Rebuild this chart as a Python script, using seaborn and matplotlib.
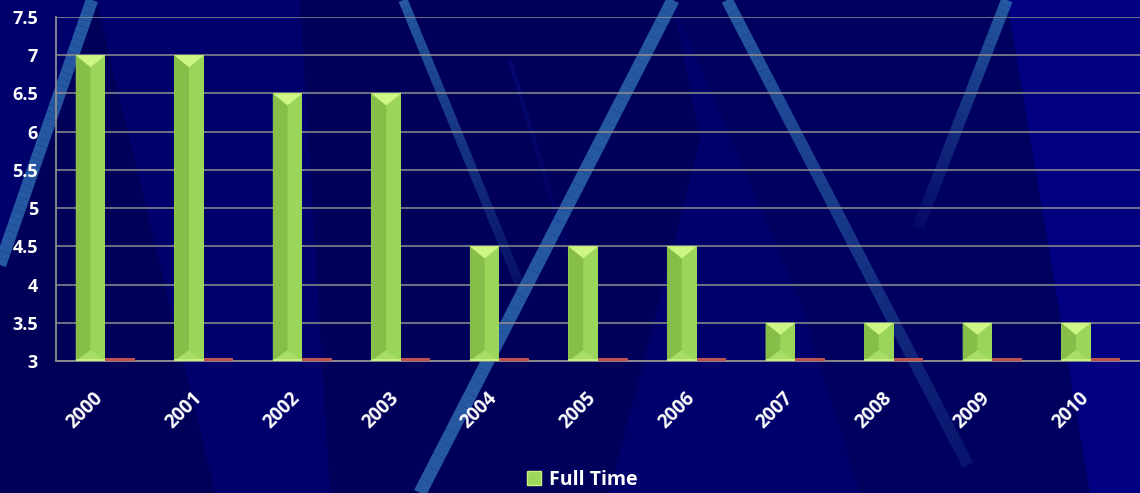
import numpy as np
import pandas as pd
import matplotlib
matplotlib.use("Agg")
import matplotlib.pyplot as plt
import matplotlib.transforms as mtransforms
import seaborn as sns
from matplotlib.patches import Polygon, Patch
from matplotlib.collections import LineCollection
from matplotlib.colors import to_rgba

# ---------------- data ----------------
years = ["2000", "2001", "2002", "2003", "2004", "2005",
         "2006", "2007", "2008", "2009", "2010"]
full_time = [7.0, 7.0, 6.5, 6.5, 4.5, 4.5, 4.5, 3.5, 3.5, 3.5, 3.5]
part_time = [3.035, 3.035, 3.035, 3.035, 3.035, 3.035, 3.035, 3.035, 3.035, 3.035, 3.035]
series_names = ["Full Time", "Part Time"]
y_ticks = [3, 3.5, 4, 4.5, 5, 5.5, 6, 6.5, 7, 7.5]
y_tick_labels = ["3", "3.5", "4", "4.5", "5", "5.5", "6", "6.5", "7", "7.5"]

df = pd.DataFrame({
    "Year": years * 2,
    "Value": full_time + part_time,
    "Series": [series_names[0]] * len(years) + [series_names[1]] * len(years),
})

# ---------------- style ----------------
sns.set_theme(style="white")
plt.rcParams["font.family"] = ["Open Sans", "DejaVu Sans"]
plt.rcParams["font.weight"] = "bold"

W, H = 1140, 493
fig = plt.figure(figsize=(W / 100, H / 100), dpi=100)
BASE = "#00006c"
fig.patch.set_facecolor(BASE)


def P(x, y):
    return (x / W, 1 - y / H)


def poly(pts, color, z=-10):
    fig.add_artist(Polygon([P(*p) for p in pts], closed=True,
                           transform=fig.transFigure, facecolor=color,
                           edgecolor="none", zorder=z))


def fline(p0, p1, lw, a0=0.85, a1=0.85, color="#2c68ad", n=40):
    xs = np.linspace(p0[0], p1[0], n + 1)
    ys = np.linspace(p0[1], p1[1], n + 1)
    segs = [[P(xs[i], ys[i]), P(xs[i + 1], ys[i + 1])] for i in range(n)]
    alphas = np.linspace(a0, a1, n)
    cols = [to_rgba(color, a) for a in alphas]
    lc = LineCollection(segs, colors=cols, linewidths=lw,
                        transform=fig.transFigure, zorder=-5,
                        capstyle="butt")
    fig.add_artist(lc)


# background shading
poly([(0, 265), (92, 0), (96, 0), (215, 493), (0, 493)], "#000058")
poly([(300, 0), (672, 0), (700, 140), (610, 493), (330, 493)], "#00005a")
poly([(672, 0), (1007, 0), (1090, 493), (860, 493), (800, 300)], "#00005e")
poly([(1007, 0), (1140, 0), (1140, 493), (1090, 493)], "#000080")

# decorative light-blue streaks
fline((0, 265), (92, 0), 9.0)
fline((403, 0), (522, 290), 6.8, 0.85, 0.15)
fline((673, 0), (420, 493), 9.5)
fline((727, 0), (968, 465), 8.5, 0.85, 0.2)
fline((1007, 0), (918, 228), 8.5, 0.85, 0.1)
fline((510, 60), (600, 360), 3.0, 0.18, 0.0, color="#1a2fd0")

# ---------------- axes ----------------
left, right = 56 / W, 1.0
bottom, top = 1 - 361 / H, 1 - 17 / H
ax = fig.add_axes([left, bottom, right - left, top - bottom])
ax.set_facecolor("none")

GREEN = "#9bd65a"
RED = "#c0504d"
sns.barplot(data=df, x="Year", y="Value", hue="Series",
            palette={series_names[0]: GREEN, series_names[1]: RED},
            width=0.6, saturation=1, linewidth=0, legend=False, ax=ax,
            zorder=4.5)

ax.set_ylim(y_ticks[0], y_ticks[-1])
ax.set_xlim(-0.5, len(years) - 0.5)
ax.set_yticks(y_ticks)
ax.set_yticklabels(y_tick_labels)
ax.set_xlabel("")
ax.set_ylabel("")

GRID = "#8f8f8f"
ax.grid(axis="y", color=GRID, linewidth=1.1, zorder=1)
ax.set_axisbelow(True)
for s in ["top", "right"]:
    ax.spines[s].set_visible(False)
for s in ["left", "bottom"]:
    ax.spines[s].set_color(GRID)
    ax.spines[s].set_linewidth(1.3)
    ax.spines[s].set_zorder(4)

ax.tick_params(axis="y", colors=GRID, length=6, width=1.1, pad=7,
               labelcolor="white", labelsize=13)
ax.set_xticks(np.arange(-0.5, len(years)), minor=True)
ax.tick_params(axis="x", which="minor", length=5, width=1.1, colors=GRID,
               direction="out")
ax.tick_params(axis="x", which="major", length=0, pad=25,
               labelcolor="white", labelsize=13.5)
shift = mtransforms.ScaledTranslation(-5 / 100, 0, fig.dpi_scale_trans)
for lab in ax.get_xticklabels():
    lab.set_rotation(45)
    lab.set_ha("right")
    lab.set_va("center")
    lab.set_rotation_mode("anchor")
    lab.set_fontweight("bold")
    lab.set_transform(lab.get_transform() + shift)
for lab in ax.get_yticklabels():
    lab.set_fontweight("bold")

# ---------------- bevel facets on the green bars ----------------
T = ax.transData
inv = T.inverted()
ymin = ax.get_ylim()[0]
for p in list(ax.patches):
    if not np.allclose(p.get_facecolor()[:3], to_rgba(GREEN)[:3]):
        continue
    x0 = p.get_x()
    w = p.get_width()
    y1 = p.get_y() + p.get_height()
    (X0, Y0) = T.transform((x0, ymin))
    (X1, Y1) = T.transform((x0 + w, y1))
    XC = (X0 + X1) / 2
    d = 12
    db = 11
    facets = [
        ([(X0, Y1), (XC, Y1 - d), (XC, Y0 + db), (X0, Y0)], "#87be49"),
        ([(X0, Y0), (X1, Y0), (XC, Y0 + db)], "#a6de66"),
        ([(X0, Y1), (X1, Y1), (XC, Y1 - d)], "#cdf686"),
        ([(X0, Y0), (X1, Y0), (X1, Y0 + 1.5), (X0, Y0 + 1.5)], "#c6ee80"),
    ]
    for pts, c in facets:
        dat = inv.transform(np.array(pts))
        ax.add_patch(Polygon(dat, closed=True, facecolor=c,
                             edgecolor="none", zorder=5))

# ---------------- legend ----------------
handle = Patch(facecolor=GREEN, edgecolor="#c8f080", linewidth=1.0)
leg = fig.legend([handle], [series_names[0]], loc="center",
                 bbox_to_anchor=(582 / W, 1 - 480 / H), frameon=False,
                 handlelength=0.75, handleheight=0.75, handletextpad=0.4,
                 prop={"weight": "bold", "size": 14})
for t in leg.get_texts():
    t.set_color("white")

fig.savefig("out.png", dpi=100, facecolor=fig.get_facecolor())
